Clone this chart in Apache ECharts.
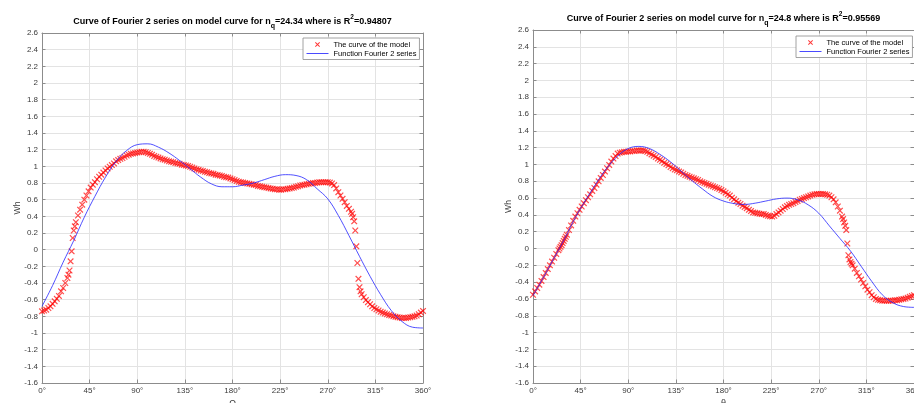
<!DOCTYPE html>
<html>
<head>
<meta charset="utf-8">
<script src="https://cdn.jsdelivr.net/npm/echarts@6/dist/echarts.min.js"></script>
<style>
  html, body { margin: 0; padding: 0; background: #fff; }
  #chart { width: 914px; height: 403px; }
</style>
</head>
<body>
<div id="chart"></div>
<script>
// sample angles of the model curve (denser where the curve jumps)
const MODEL_DEG = [
  0, 2, 4, 6, 8, 10, 12, 14, 16, 18, 20, 22, 24,
  25, 26, 27, 28, 29, 30, 31, 32,
  34, 36, 38, 40, 42, 44, 46, 48, 50, 52, 54, 56, 58, 60, 62, 64, 66, 68, 70, 72,
  74, 76, 78, 80, 82, 84, 86, 88, 90, 92, 94, 96, 98, 100, 102, 104, 106, 108, 110, 112,
  114, 116, 118, 120, 122, 124, 126, 128, 130, 132, 134, 136, 138, 140, 142, 144, 146, 148, 150, 152,
  154, 156, 158, 160, 162, 164, 166, 168, 170, 172, 174, 176, 178, 180, 182, 184, 186, 188, 190, 192,
  194, 196, 198, 200, 202, 204, 206, 208, 210, 212, 214, 216, 218, 220, 222, 224, 226, 228, 230, 232,
  234, 236, 238, 240, 242, 244, 246, 248, 250, 252, 254, 256, 258, 260, 262, 264, 266, 268, 270, 272,
  274, 276, 278, 280, 282, 284, 286, 288, 290, 292,
  293, 294, 295, 296, 297, 298, 299, 300, 301, 302,
  304, 306, 308, 310, 312, 314, 316, 318, 320, 322, 324, 326, 328, 330, 332, 334, 336, 338, 340, 342,
  344, 346, 348, 350, 352, 354, 356, 358, 360
];

// model curve, n_q = 24.34
const MODEL_A = [
  -0.74, -0.73, -0.72, -0.70, -0.68, -0.65, -0.62, -0.59, -0.555, -0.50, -0.46, -0.40, -0.34,
  -0.30, -0.25, -0.14, -0.02, 0.14, 0.23, 0.28, 0.33,
  0.41, 0.48, 0.54, 0.60, 0.65, 0.70, 0.745, 0.78, 0.81, 0.845, 0.875, 0.90, 0.925, 0.95, 0.975, 0.995, 1.015, 1.035, 1.06, 1.075,
  1.09, 1.10, 1.115, 1.13, 1.14, 1.15, 1.155, 1.16, 1.165, 1.17, 1.175, 1.175, 1.17, 1.16, 1.15, 1.14, 1.125, 1.115, 1.105, 1.095,
  1.085, 1.08, 1.07, 1.06, 1.055, 1.05, 1.04, 1.035, 1.03, 1.02, 1.015, 1.01, 1.005, 0.995, 0.985, 0.975, 0.965, 0.96, 0.95, 0.945,
  0.935, 0.93, 0.92, 0.915, 0.91, 0.90, 0.895, 0.89, 0.885, 0.875, 0.87, 0.865, 0.855, 0.845, 0.835, 0.825, 0.815, 0.81, 0.805, 0.80,
  0.795, 0.79, 0.785, 0.78, 0.775, 0.765, 0.76, 0.755, 0.75, 0.745, 0.74, 0.735, 0.73, 0.725, 0.725, 0.72, 0.72, 0.725, 0.725, 0.73,
  0.735, 0.74, 0.745, 0.755, 0.76, 0.77, 0.775, 0.78, 0.785, 0.79, 0.795, 0.80, 0.80, 0.805, 0.81, 0.81, 0.81, 0.81, 0.81, 0.805,
  0.795, 0.775, 0.735, 0.69, 0.65, 0.61, 0.57, 0.525, 0.49, 0.455,
  0.43, 0.39, 0.34, 0.23, 0.04, -0.16, -0.35, -0.45, -0.50, -0.535,
  -0.57, -0.605, -0.63, -0.655, -0.68, -0.70, -0.715, -0.73, -0.745, -0.755, -0.765, -0.775, -0.785, -0.79, -0.80, -0.805, -0.81, -0.815, -0.82, -0.82,
  -0.82, -0.815, -0.81, -0.805, -0.80, -0.79, -0.775, -0.755, -0.735
];

// model curve, n_q = 24.8
const MODEL_B = [
  -0.55, -0.51, -0.47, -0.43, -0.385, -0.34, -0.29, -0.245, -0.20, -0.155, -0.11, -0.065, -0.02,
  0.0, 0.02, 0.04, 0.065, 0.09, 0.115, 0.14, 0.165,
  0.22, 0.275, 0.33, 0.38, 0.42, 0.46, 0.50, 0.54, 0.575, 0.61, 0.645, 0.685, 0.72, 0.76, 0.80, 0.84, 0.875, 0.915, 0.955, 0.995,
  1.035, 1.07, 1.10, 1.13, 1.14, 1.145, 1.15, 1.15, 1.155, 1.155, 1.16, 1.16, 1.165, 1.165, 1.165, 1.165, 1.16, 1.15, 1.135, 1.12,
  1.105, 1.09, 1.07, 1.055, 1.04, 1.02, 1.005, 0.99, 0.97, 0.955, 0.94, 0.93, 0.915, 0.905, 0.89, 0.875, 0.865, 0.855, 0.845, 0.835,
  0.825, 0.815, 0.80, 0.79, 0.78, 0.77, 0.76, 0.75, 0.74, 0.73, 0.72, 0.71, 0.695, 0.68, 0.665, 0.645, 0.63, 0.605, 0.585, 0.565,
  0.545, 0.53, 0.51, 0.495, 0.48, 0.46, 0.445, 0.43, 0.425, 0.42, 0.415, 0.41, 0.41, 0.40, 0.39, 0.385, 0.38, 0.39, 0.41, 0.43,
  0.45, 0.47, 0.49, 0.505, 0.52, 0.53, 0.54, 0.555, 0.565, 0.58, 0.59, 0.60, 0.61, 0.62, 0.63, 0.64, 0.645, 0.65, 0.65, 0.65,
  0.65, 0.645, 0.64, 0.63, 0.61, 0.585, 0.55, 0.50, 0.45, 0.38,
  0.35, 0.31, 0.27, 0.22, 0.06, -0.08, -0.13, -0.16, -0.18, -0.20,
  -0.24, -0.29, -0.33, -0.37, -0.41, -0.45, -0.49, -0.52, -0.555, -0.58, -0.60, -0.61, -0.615, -0.62, -0.62, -0.62, -0.62, -0.62, -0.62, -0.615,
  -0.615, -0.61, -0.605, -0.60, -0.595, -0.585, -0.575, -0.565, -0.555
];

// Fourier 2 series fits
const FIT_DEG = [0, 10, 20, 30, 40, 50, 60, 70, 80, 90, 100, 110, 120, 130, 140, 150, 160, 170, 180,
  190, 200, 210, 220, 230, 240, 250, 260, 270, 280, 290, 300, 310, 320, 330, 340, 350, 360];
const FIT_A = [-0.68, -0.43, -0.15, 0.11, 0.39, 0.64, 0.87, 1.06, 1.19, 1.26, 1.27, 1.23, 1.16, 1.07, 0.97, 0.87, 0.79, 0.755, 0.755,
  0.775, 0.80, 0.84, 0.88, 0.90, 0.89, 0.84, 0.73, 0.61, 0.41, 0.17, -0.08, -0.32, -0.54, -0.73, -0.86, -0.93, -0.94];
const FIT_B = [-0.56, -0.34, -0.11, 0.12, 0.37, 0.58, 0.78, 0.96, 1.10, 1.19, 1.215, 1.19, 1.12, 1.03, 0.92, 0.81, 0.71, 0.62, 0.565,
  0.535, 0.525, 0.54, 0.565, 0.59, 0.60, 0.58, 0.52, 0.42, 0.27, 0.12, -0.03, -0.21, -0.39, -0.55, -0.645, -0.69, -0.70];

const X_TICK_STEP = 45;
const Y_MIN = -1.6, Y_MAX = 2.6, Y_STEP = 0.2;
const TITLES = [
  ['24.34', '0.94807'],
  ['24.8', '0.95569']
];
const X_NAMES = ['Ω', 'θ'];
const MODEL_NAME = 'The curve of the model';
const FIT_NAME = 'Function Fourier 2 series';

const FONT = '"Liberation Sans", Arial, Helvetica, sans-serif';
const AXIS_COLOR = '#8c8c8c';
const GRID_COLOR = '#e3e3e3';
const LABEL_COLOR = '#3a3a3a';
const RED = '#ff0000';
const BLUE = '#2424ff';
const CROSS = 'path://M0,1.3L1.3,0L5,3.7L8.7,0L10,1.3L6.3,5L10,8.7L8.7,10L5,6.3L1.3,10L0,8.7L3.7,5Z';

const grids = [
  { left: 42, top: 33, width: 381, height: 350, outerBoundsMode: 'none', containLabel: false },
  { left: 533, top: 30, width: 381, height: 353, outerBoundsMode: 'none', containLabel: false }
];

const zip = (xs, ys) => xs.map((x, i) => [x, ys[i]]);

const tickStyle = { inside: true, length: 3.5, lineStyle: { color: AXIS_COLOR, width: 1 } };
const lineStyle = { onZero: false, lineStyle: { color: AXIS_COLOR, width: 1 } };

const xAxis = [];
const yAxis = [];
grids.forEach((g, gi) => {
  xAxis.push({
    type: 'value', gridIndex: gi, position: 'bottom', min: 0, max: 360, interval: X_TICK_STEP,
    name: X_NAMES[gi], nameLocation: 'middle', nameGap: 16, nameMoveOverlap: false,
    nameTextStyle: { fontSize: 9, color: LABEL_COLOR, fontFamily: FONT },
    axisLine: lineStyle, axisTick: tickStyle,
    axisLabel: { formatter: v => v + '°', fontSize: 8, color: LABEL_COLOR, margin: 4, fontFamily: FONT },
    splitLine: { show: true, lineStyle: { color: GRID_COLOR, width: 1 } }
  }, {
    type: 'value', gridIndex: gi, position: 'top', min: 0, max: 360, interval: X_TICK_STEP,
    axisLine: lineStyle, axisTick: tickStyle, axisLabel: { show: false }, splitLine: { show: false }
  });
  yAxis.push({
    type: 'value', gridIndex: gi, position: 'left', min: Y_MIN, max: Y_MAX, interval: Y_STEP,
    name: 'Wh', nameLocation: 'middle', nameGap: 20, nameMoveOverlap: false,
    nameTextStyle: { fontSize: 8.5, color: LABEL_COLOR, fontFamily: FONT },
    axisLine: lineStyle, axisTick: tickStyle,
    axisLabel: { fontSize: 8, color: LABEL_COLOR, margin: 4, fontFamily: FONT },
    splitLine: { show: true, lineStyle: { color: GRID_COLOR, width: 1 } }
  }, {
    type: 'value', gridIndex: gi, position: 'right', min: Y_MIN, max: Y_MAX, interval: Y_STEP,
    axisLine: lineStyle, axisTick: tickStyle, axisLabel: { show: false }, splitLine: { show: false }
  });
});

const models = [MODEL_A, MODEL_B];
const fits = [FIT_A, FIT_B];
const series = [];
grids.forEach((g, gi) => {
  series.push({
    name: MODEL_NAME, type: 'scatter', xAxisIndex: gi * 2, yAxisIndex: gi * 2,
    data: zip(MODEL_DEG, models[gi]),
    symbol: CROSS, symbolSize: 6.5,
    itemStyle: { color: RED, opacity: 0.7 }
  });
  series.push({
    name: FIT_NAME, type: 'line', xAxisIndex: gi * 2, yAxisIndex: gi * 2,
    data: zip(FIT_DEG, fits[gi]),
    smooth: 0.4, symbol: 'none',
    lineStyle: { color: BLUE, width: 0.8 },
    itemStyle: { color: BLUE }
  });
});

const titleRich = {
  b: { fontSize: 9, fontWeight: 'bold', color: '#000', fontFamily: FONT, lineHeight: 16 },
  sub: { fontSize: 7, fontWeight: 'bold', color: '#000', fontFamily: FONT, verticalAlign: 'bottom' },
  sup: { fontSize: 6.5, fontWeight: 'bold', color: '#000', fontFamily: FONT, verticalAlign: 'top', lineHeight: 10 }
};
const title = TITLES.map((t, i) => ({
  text: '{b|Curve of Fourier 2 series on model curve for n}{sub|q}{b|=' + t[0] +
    ' where is R}{sup|2}{b|=' + t[1] + '}',
  left: grids[i].left + grids[i].width / 2,
  top: i === 0 ? 14 : 11,
  textAlign: 'center',
  padding: 0,
  textStyle: { rich: titleRich }
}));

const legendTops = [38, 36];
const legendLefts = [303, 796];
const legend = legendTops.map((top, i) => ({
  left: legendLefts[i], top,
  orient: 'vertical',
  data: [
    { name: MODEL_NAME, itemStyle: { color: RED, opacity: 0.8 } },
    { name: FIT_NAME, itemStyle: { color: BLUE, opacity: 0 } }
  ],
  lineStyle: { color: '#4a4aff', width: 1 },
  backgroundColor: '#fff',
  borderColor: '#8c8c8c', borderWidth: 0.8,
  padding: [2.5, 3, 2, 3],
  itemWidth: 22, itemHeight: 5, itemGap: 1,
  selectedMode: false,
  textStyle: { fontSize: 7.5, color: '#000', fontFamily: FONT }
}));

const chart = echarts.init(document.getElementById('chart'));
chart.setOption({
  animation: false,
  backgroundColor: '#fff',
  title,
  legend,
  grid: grids,
  xAxis,
  yAxis,
  series
});
</script>
</body>
</html>
